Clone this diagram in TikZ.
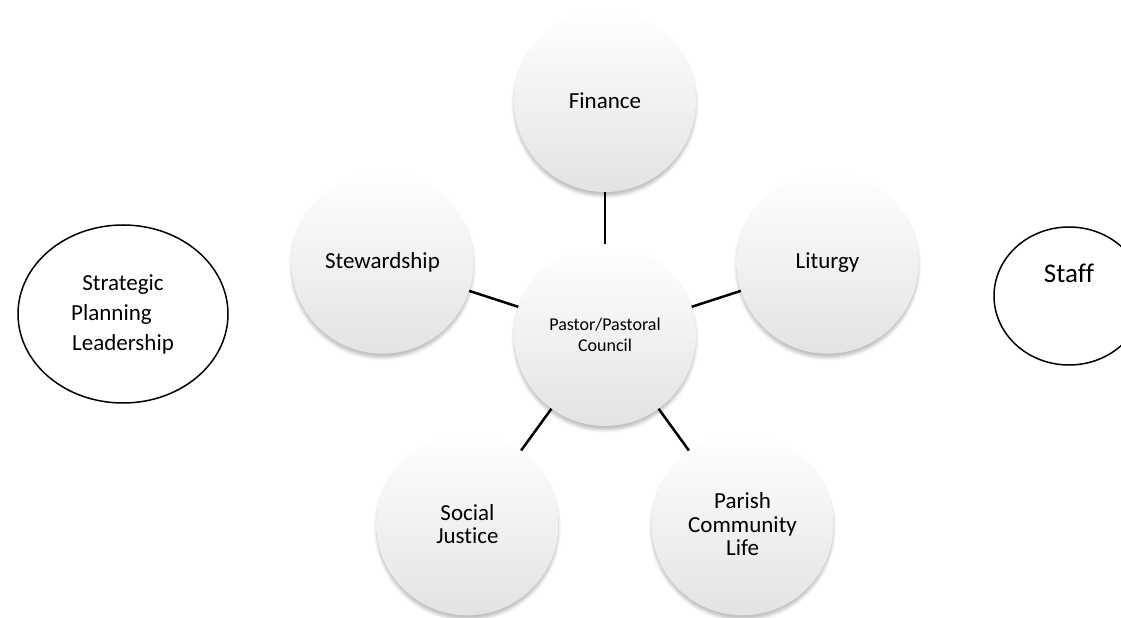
\documentclass[tikz,border=0pt]{standalone}
\usepackage{fontspec}
\setmainfont{Carlito}[Ligatures=NoCommon]
\usetikzlibrary{calc,positioning,shapes.geometric,shadows.blur}
\tikzset{
  bubble/.style={circle, minimum size=182pt, inner sep=0pt, align=center,
    font=\fontsize{23}{23.5}\selectfont,
    top color=white, middle color=white, bottom color=black!11,
    blur shadow={shadow xshift=0pt, shadow yshift=-4pt, shadow blur radius=3pt, shadow opacity=25}},
  link/.style={line width=2.5pt},
  ring/.style={ellipse, draw, line width=1.5pt, inner sep=0pt, align=center}
}

\begin{document}
\begin{tikzpicture}[x=1pt,y=1pt]
\useasboundingbox (0,0) rectangle (1121,618);
\clip (0,0) rectangle (1121,618);
\coordinate (O) at (605,283);
\node[bubble, font=\fontsize{18}{21}\selectfont] (council) at (O) {Pastor/Pastoral\\Council};
\node[bubble] (finance) at ($(O)+(90:234pt)$) {Finance};
\node[bubble] (liturgy) at ($(O)+(18:234pt)$) {Liturgy};
\node[bubble] (parish) at ($(O)+(306:234pt)$) {Parish\\Community\\Life};
\node[bubble] (justice) at ($(O)+(234:234pt)$) {Social\\Justice};
\node[bubble] (stewardship) at ($(O)+(162:234pt)$) {Stewardship};
\draw[link] (council) -- (finance);
\draw[link] (council) -- (liturgy);
\draw[link] (council) -- (parish);
\draw[link] (council) -- (justice);
\draw[link] (council) -- (stewardship);
\node[ring, minimum width=210pt, minimum height=178pt, font=\fontsize{23}{30}\selectfont] (strategic) at (123,304) {Strategic\\Planning\hphantom{\hspace{23pt}}\\Leadership};
\node[ring, minimum width=150pt, minimum height=138pt] (staff) at (1069,322) {};
\node[font=\fontsize{27}{30}\selectfont] (stafftext) at ($(staff.center)+(0,23pt)$) {Staff};
\end{tikzpicture}
\end{document}
